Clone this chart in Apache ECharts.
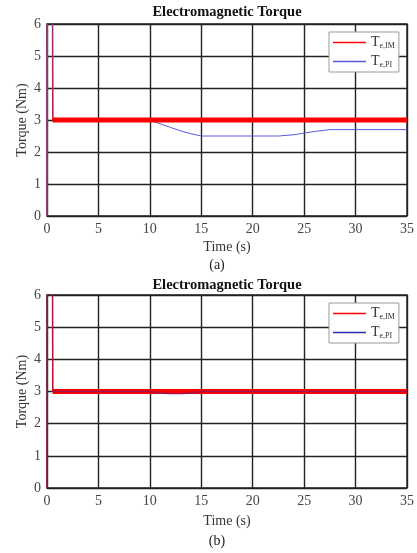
<!DOCTYPE html>
<html>
<head>
<meta charset="utf-8">
<script src="https://cdn.jsdelivr.net/npm/echarts@6/dist/echarts.min.js"></script>
<style>
  html, body { margin: 0; padding: 0; background: #fff; }
  #chart { width: 417px; height: 553px; }
</style>
</head>
<body>
<div id="chart"></div>
<script>
// axis ticks
var xTicks = [0, 5, 10, 15, 20, 25, 30, 35];
var yTicks = [0, 1, 2, 3, 4, 5, 6];

// red: start-up transient (thin) and the steady band at 3 Nm (thick)
var tImStart = [0, 0.03, 0.5, 0.55];
var teImStart = [0, 9, 9, 3];
var tIm = [0.55, 35];
var teIm = [3, 3];

// blue, plot (a)
var tPiA = [0, 0.03, 0.55, 0.6, 10, 11, 12, 13, 14, 15, 22.5, 24, 25, 26, 27, 27.5, 35];
var tePiA = [0, 9, 9, 3, 3, 2.88, 2.77, 2.66, 2.57, 2.5, 2.5, 2.54, 2.59, 2.64, 2.68, 2.7, 2.7];

// blue, plot (b)
var tPiB = [0, 0.03, 0.55, 0.6, 10, 11, 12, 13, 14, 15, 35];
var tePiB = [0, 9, 9, 3, 3, 2.95, 2.93, 2.93, 2.95, 3, 3];

var serif = 'Liberation Serif';
var redColor = '#ff0000';
var blueA = '#5a5ad6';
var blueB = '#2c2cb4';

function pairs(xs, ys) {
    var out = [];
    for (var i = 0; i < xs.length; i++) {
        out.push([xs[i], ys[i]]);
    }
    return out;
}

function makeX(idx) {
    return {
        gridIndex: idx,
        type: 'value',
        min: xTicks[0],
        max: xTicks[xTicks.length - 1],
        interval: xTicks[1] - xTicks[0],
        name: 'Time (s)',
        nameLocation: 'middle',
        nameGap: idx === 0 ? 24 : 26,
        nameMoveOverlap: false,
        nameTextStyle: { fontFamily: serif, fontSize: 14, color: '#333' },
        axisLine: { show: false },
        axisTick: { show: false },
        axisLabel: { fontFamily: serif, fontSize: 14, color: '#444', margin: 6 },
        splitLine: { show: true, lineStyle: { color: '#222', width: 1.4 } }
    };
}

function makeY(idx) {
    return {
        gridIndex: idx,
        type: 'value',
        min: yTicks[0],
        max: yTicks[yTicks.length - 1],
        interval: yTicks[1] - yTicks[0],
        name: 'Torque (Nm)',
        nameLocation: 'middle',
        nameGap: 18,
        nameMoveOverlap: false,
        nameTextStyle: { fontFamily: serif, fontSize: 14, color: '#333' },
        axisLine: { show: false },
        axisTick: { show: false },
        axisLabel: { fontFamily: serif, fontSize: 14, color: '#444', margin: 6 },
        splitLine: { show: true, lineStyle: { color: '#222', width: 1.4 } }
    };
}

function line(name, data, color, width, idx, z, opacity) {
    return {
        name: name,
        type: 'line',
        xAxisIndex: idx,
        yAxisIndex: idx,
        data: data,
        showSymbol: false,
        symbol: 'none',
        clip: true,
        z: z,
        lineStyle: { color: color, width: width, opacity: opacity == null ? 1 : opacity },
        itemStyle: { color: color },
        animation: false
    };
}

var subNames = {
    'a_IM': 'e,IM', 'a_PI': 'e,PI',
    'b_IM': 'e,IM', 'b_PI': 'e,PI'
};

function makeLegend(top, names) {
    return {
        orient: 'vertical',
        left: 329,
        top: top,
        data: names,
        icon: 'rect',
        itemWidth: 33,
        itemHeight: 1.5,
        itemGap: 4,
        padding: [3, 4, 3, 4],
        backgroundColor: '#fff',
        borderColor: '#999',
        borderWidth: 1,
        borderRadius: 0,
        selectedMode: false,
        z: 10,
        formatter: function(n) {
            return '{t|T}{s|' + subNames[n] + '}';
        },
        textStyle: {
            rich: {
                t: { fontFamily: serif, fontSize: 14, color: '#333', lineHeight: 18 },
                s: { fontFamily: serif, fontSize: 8, color: '#333', padding: [7, 0, 0, 0], lineHeight: 18 }
            }
        }
    };
}

var chart = echarts.init(document.getElementById('chart'), null, { renderer: 'canvas' });

chart.setOption({
    backgroundColor: '#fff',
    animation: false,
    grid: [
        { left: 47, right: 10, top: 24, height: 192, show: true, borderColor: '#222', borderWidth: 1.4 },
        { left: 47, right: 10, top: 295, height: 193, show: true, borderColor: '#222', borderWidth: 1.4 }
    ],
    xAxis: [makeX(0), makeX(1)],
    yAxis: [makeY(0), makeY(1)],
    legend: [
        makeLegend(32, ['a_IM', 'a_PI']),
        makeLegend(303, ['b_IM', 'b_PI'])
    ],
    graphic: [
        { type: 'text', x: 227, y: 12, style: { text: 'Electromagnetic Torque', fontFamily: serif, fontSize: 14.5, fontWeight: 'bold', fill: '#111', align: 'center', verticalAlign: 'middle' } },
        { type: 'text', x: 217, y: 265, style: { text: '(a)', fontFamily: serif, fontSize: 14, fill: '#222', align: 'center', verticalAlign: 'middle' } },
        { type: 'text', x: 227, y: 285, style: { text: 'Electromagnetic Torque', fontFamily: serif, fontSize: 14.5, fontWeight: 'bold', fill: '#111', align: 'center', verticalAlign: 'middle' } },
        { type: 'text', x: 217, y: 541, style: { text: '(b)', fontFamily: serif, fontSize: 14, fill: '#222', align: 'center', verticalAlign: 'middle' } }
    ],
    series: [
        line('a_IM_start', pairs(tImStart, teImStart), redColor, 1.2, 0, 2),
        line('a_PI', pairs(tPiA, tePiA), blueA, 1, 0, 3),
        line('a_IM', pairs(tIm, teIm), redColor, 5, 0, 4),
        line('b_IM_start', pairs(tImStart, teImStart), redColor, 1.2, 1, 2),
        line('b_IM', pairs(tIm, teIm), redColor, 5, 1, 3),
        line('b_PI', pairs(tPiB, tePiB), blueB, 1.5, 1, 4, 0.45)
    ]
});
</script>
</body>
</html>
